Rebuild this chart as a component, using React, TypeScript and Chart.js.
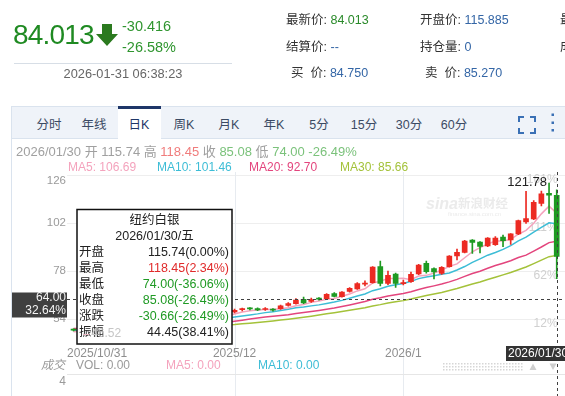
import React, { useEffect, useRef } from 'react';
import { Chart, registerables } from 'chart.js';
Chart.register(...registerables);

const W = 565;
const H = 396;
const FONT = '"Liberation Sans", Arial, "Noto Sans CJK SC", sans-serif';

// ---------- data ----------
const instrumentName = '纽约白银';
const dates = [
  '2025/10/31',
  '2025/11/03', '2025/11/04', '2025/11/05', '2025/11/06', '2025/11/07',
  '2025/11/10', '2025/11/11', '2025/11/12', '2025/11/13', '2025/11/14',
  '2025/11/17', '2025/11/18', '2025/11/19', '2025/11/20', '2025/11/21',
  '2025/11/24', '2025/11/25', '2025/11/26', '2025/11/27', '2025/11/28',
  '2025/12/01', '2025/12/02', '2025/12/03', '2025/12/04', '2025/12/05',
  '2025/12/08', '2025/12/09', '2025/12/10', '2025/12/11', '2025/12/12',
  '2025/12/15', '2025/12/16', '2025/12/17', '2025/12/18', '2025/12/19',
  '2025/12/22', '2025/12/23', '2025/12/24', '2025/12/26',
  '2025/12/29', '2025/12/30', '2025/12/31', '2026/01/02',
  '2026/01/05', '2026/01/06', '2026/01/07', '2026/01/08', '2026/01/09',
  '2026/01/12', '2026/01/13', '2026/01/14', '2026/01/15', '2026/01/16',
  '2026/01/19', '2026/01/20', '2026/01/21', '2026/01/22', '2026/01/23',
  '2026/01/26', '2026/01/27', '2026/01/28', '2026/01/29', '2026/01/30',
];
const opens = [
  48.40, 48.30, 47.90, 47.20, 47.90, 48.20, 48.60, 50.90, 51.80, 53.80, 52.60,
  52.00, 52.40, 53.00, 53.80, 53.30, 52.60, 53.40, 54.30, 55.50, 56.40,
  57.40, 58.50, 59.10, 59.00, 58.60, 58.60, 59.00, 60.60, 61.55, 63.70,
  62.60, 64.10, 64.00, 66.50, 65.00, 67.70, 68.85, 71.30, 72.00,
  80.00, 71.70, 76.30, 71.50,
  72.50, 76.35, 81.70, 79.00, 76.70,
  80.00, 85.35, 87.20, 93.35, 92.35,
  90.35, 91.00, 94.85, 93.35, 96.35,
  102.35, 103.85, 111.70, 116.70, 115.74,
];
const highs = [
  48.90, 48.60, 48.10, 48.20, 48.60, 48.90, 51.10, 51.90, 54.20, 54.40, 53.30,
  52.60, 53.30, 54.20, 54.10, 53.60, 53.70, 54.60, 55.90, 56.80, 57.90,
  58.80, 59.30, 59.60, 59.40, 59.50, 59.00, 60.80, 62.00, 64.00, 64.85,
  64.30, 64.50, 66.60, 67.00, 67.60, 69.50, 72.00, 72.90, 80.10,
  82.85, 77.85, 76.80, 73.35,
  77.35, 81.20, 82.85, 79.40, 80.00,
  85.60, 88.85, 93.20, 93.60, 92.60,
  94.60, 95.00, 95.85, 96.60, 103.30,
  117.70, 113.00, 117.85, 121.78, 118.45,
];
const lows = [
  47.90, 46.52, 46.90, 47.00, 47.60, 47.80, 48.50, 50.40, 51.30, 52.20, 50.10,
  50.80, 52.00, 52.70, 52.90, 52.10, 52.30, 53.10, 54.00, 55.20, 56.10,
  56.90, 57.90, 58.40, 58.00, 58.20, 57.80, 58.70, 60.30, 61.30, 61.50,
  62.20, 63.30, 63.80, 64.90, 64.80, 67.30, 68.60, 70.40, 71.80,
  70.35, 71.00, 69.70, 70.85,
  72.20, 76.00, 76.80, 73.85, 76.20,
  79.80, 83.35, 86.90, 86.70, 86.85,
  90.00, 90.60, 90.00, 91.20, 96.00,
  101.70, 103.50, 110.35, 106.70, 74.00,
];
const closes = [
  48.25, 47.90, 47.20, 47.90, 48.20, 48.60, 50.90, 51.80, 53.80, 52.60, 52.00,
  52.40, 53.00, 53.80, 53.30, 52.60, 53.40, 54.30, 55.50, 56.40, 57.60,
  58.20, 58.80, 58.90, 58.40, 58.90, 58.30, 60.40, 61.60, 63.35, 61.90,
  63.60, 63.80, 66.20, 65.20, 67.35, 69.20, 71.50, 71.50, 79.85,
  71.70, 75.70, 71.70, 72.10,
  76.20, 80.85, 77.50, 77.35, 79.70,
  85.35, 87.20, 92.85, 92.20, 90.20,
  94.35, 94.35, 93.00, 96.43, 103.00,
  104.00, 112.20, 116.45, 115.74, 85.08,
];
// closes of the 29 sessions before the first visible one (needed for MA30)
const priorCloses = [
  43.1, 43.6, 44.0, 43.9, 44.6, 46.2, 46.9, 46.4, 47.0, 47.2,
  47.9, 48.3, 47.6, 48.9, 49.8, 50.1, 51.6, 51.2, 52.8, 53.6,
  51.0, 47.6, 48.3, 48.6, 48.4, 46.5, 46.9, 47.6, 47.9,
];
const maPeriods = [5, 10, 20, 30];
const maColors = ['#f4a3bd', '#3dbdd6', '#e3457d', '#a4c23a'];
const yTickValues = [54, 78, 102, 126];
const xTickDates = ['2025/10/31', '2025/12/01', '2026/01/02'];
const xTickTexts = ['2025/10/31', '2025/12', '2026/1'];
const crosshairPrice = 64;
const yMin = 40.85;
const yMax = 127.35;

const quote = { price: '84.013', change: '-30.416', pct: '-26.58%', time: '2026-01-31 06:38:23' };
const quoteFields = [
  { label: '最新价:', value: '84.013', color: '#2a8a2a' },
  { label: '开盘价:', value: '115.885', color: '#3466a6' },
  { label: '最高价:', value: '121.780', color: '#3466a6' },
  { label: '结算价:', value: '--', color: '#3466a6' },
  { label: '持仓量:', value: '0', color: '#3466a6' },
  { label: '成交量:', value: '0', color: '#3466a6' },
  { label: '买\u00a0\u00a0价:', value: '84.750', color: '#3466a6' },
  { label: '卖\u00a0\u00a0价:', value: '85.270', color: '#3466a6' },
];
const tabs = ['分时', '年线', '日K', '周K', '月K', '年K', '5分', '15分', '30分', '60分'];
const activeTab = '日K';

// ---------- derived ----------
const UP = '#ec2a22';
const DOWN = '#1e9a22';
const last = closes.length - 1;
const base = closes[0];
const allCloses = [...priorCloses, ...closes];
const P = priorCloses.length;
function movingAverage(n: number) {
  return closes.map((_, i) => {
    let s = 0;
    for (let k = P + i - n + 1; k <= P + i; k++) s += allCloses[k];
    return s / n;
  });
}
const maSeries = maPeriods.map((n) => movingAverage(n));
const candleColors = closes.map((c, i) => (c >= opens[i] ? UP : DOWN));
const pctOfBase = (v: number) => Math.round((v / base - 1) * 100) + '%';
const prevClose = closes[last - 1];
const pctPrev = (v: number) => ((v / prevClose - 1) * 100).toFixed(2);
const signColor = (d: number) => (d > 0 ? '#e02b2b' : d < 0 ? '#1f9a24' : '#222');
const weekday = '日一二三四五六'[new Date(dates[last].replace(/\//g, '-') + 'T00:00:00').getDay()];

function font(size: number, extra = '') {
  return `${extra} ${size}px ${FONT}`.trim();
}

const decor = {
  id: 'decor',
  beforeDatasetsDraw(chart: any) {
    const { ctx, chartArea: a } = chart;
    const xs = chart.scales.x;
    const ys = chart.scales.y;
    ctx.save();
    ctx.lineWidth = 1;
    ctx.strokeStyle = '#eeeeee';
    for (const v of yTickValues) {
      const py = Math.round(ys.getPixelForValue(v)) + 0.5;
      ctx.beginPath();
      ctx.moveTo(67, py);
      ctx.lineTo(W, py);
      ctx.stroke();
    }
    ctx.strokeStyle = '#e7ebf0';
    xTickDates.slice(1).forEach((d) => {
      const px = Math.round(xs.getPixelForValue(dates.indexOf(d))) + 0.5;
      ctx.beginPath();
      ctx.moveTo(px, a.top);
      ctx.lineTo(px, H);
      ctx.stroke();
    });
    ctx.strokeStyle = '#e6e6e6';
    ctx.beginPath();
    ctx.moveTo(67, 374.5);
    ctx.lineTo(W, 374.5);
    ctx.stroke();
    // percentage labels on the right
    ctx.font = font(12);
    ctx.fillStyle = '#d0d0d0';
    ctx.textAlign = 'right';
    ctx.textBaseline = 'middle';
    for (const v of yTickValues) {
      ctx.fillText(pctOfBase(v), a.right - 3, ys.getPixelForValue(v) + 5);
    }
    // watermark
    ctx.fillStyle = '#ebebeb';
    ctx.textAlign = 'left';
    ctx.textBaseline = 'alphabetic';
    ctx.font = font(16, 'italic bold');
    ctx.fillText('sina', 426, 209);
    ctx.font = font(12.5, 'bold');
    ctx.fillText('新浪财经', 458, 208);
    ctx.font = font(6);
    ctx.fillText('finance.sina.com.cn', 448, 216);
    ctx.restore();
  },
  afterDraw(chart: any) {
    const { ctx, chartArea: a } = chart;
    const xs = chart.scales.x;
    const ys = chart.scales.y;
    ctx.save();
    // left price labels
    ctx.font = font(11.5);
    ctx.fillStyle = '#9a9a9a';
    ctx.textAlign = 'right';
    ctx.textBaseline = 'middle';
    for (const v of yTickValues) {
      ctx.fillText(String(v), 66, Math.max(ys.getPixelForValue(v), a.top + 9));
    }
    // date labels
    ctx.font = font(12);
    ctx.fillStyle = '#8e8e8e';
    ctx.textAlign = 'left';
    xTickDates.forEach((d, k) => {
      const px = xs.getPixelForValue(dates.indexOf(d));
      const w = ctx.measureText(xTickTexts[k]).width;
      ctx.fillText(xTickTexts[k], Math.max(px - w / 2, 67), 353.5);
    });
    // highest high marker
    let hi = 0;
    highs.forEach((h, i) => { if (h > highs[hi]) hi = i; });
    ctx.font = font(13);
    ctx.fillStyle = '#222';
    ctx.textAlign = 'right';
    ctx.fillText(highs[hi].toFixed(2), xs.getPixelForValue(hi) - 2, ys.getPixelForValue(highs[hi]) - 1);
    // crosshair
    const cx = Math.round(xs.getPixelForValue(last)) + 0.5;
    const cy = Math.round(ys.getPixelForValue(crosshairPrice)) + 0.5;
    ctx.strokeStyle = '#404040';
    ctx.lineWidth = 1;
    ctx.setLineDash([3, 3]);
    ctx.beginPath();
    ctx.moveTo(cx, a.top);
    ctx.lineTo(cx, H);
    ctx.moveTo(67, cy);
    ctx.lineTo(W, cy);
    ctx.stroke();
    ctx.setLineDash([]);
    ctx.fillStyle = '#404040';
    ctx.fillRect(12, cy - 7, 55, 25);
    ctx.fillStyle = '#f4f4f4';
    ctx.font = font(12);
    ctx.textAlign = 'right';
    ctx.fillText(crosshairPrice.toFixed(2), 66, cy - 1.5);
    ctx.fillText(((crosshairPrice / base - 1) * 100).toFixed(2) + '%', 66, cy + 11.5);
    ctx.fillStyle = '#333';
    ctx.fillRect(506, 346, 62, 15);
    ctx.fillStyle = '#fff';
    ctx.textAlign = 'left';
    ctx.fillText(dates[last], 508, 353.5);
    // tooltip
    const tx = 77, ty = 209.5, tw = 155, th = 134.5;
    ctx.fillStyle = '#fff';
    ctx.fillRect(tx, ty, tw, th);
    ctx.lineWidth = 1.5;
    ctx.strokeStyle = '#111';
    ctx.strokeRect(tx, ty, tw, th);
    ctx.font = font(12.5);
    ctx.fillStyle = '#222';
    ctx.textAlign = 'center';
    ctx.fillText(instrumentName, tx + tw / 2, 220.7);
    ctx.fillText(`${dates[last]}/${weekday}`, tx + tw / 2, 236.7);
    const o = opens[last], h = highs[last], l = lows[last], c = closes[last];
    const rows = [
      { label: '开盘', value: `${o.toFixed(2)}(${pctPrev(o)}%)`, color: signColor(o - prevClose) },
      { label: '最高', value: `${h.toFixed(2)}(${pctPrev(h)}%)`, color: signColor(h - prevClose) },
      { label: '最低', value: `${l.toFixed(2)}(${pctPrev(l)}%)`, color: signColor(l - prevClose) },
      { label: '收盘', value: `${c.toFixed(2)}(${pctPrev(c)}%)`, color: signColor(c - prevClose) },
      { label: '涨跌', value: `${(c - prevClose).toFixed(2)}(${pctPrev(c)}%)`, color: signColor(c - prevClose) },
      { label: '振幅', value: `${(h - l).toFixed(2)}(${((h - l) / prevClose * 100).toFixed(2)}%)`, color: '#222' },
    ];
    rows.forEach((r, k) => {
      const ry = 252.7 + 16 * k;
      ctx.textAlign = 'left';
      ctx.fillStyle = '#222';
      ctx.fillText(r.label, tx + 2, ry);
      ctx.textAlign = 'right';
      ctx.fillStyle = r.color;
      ctx.fillText(r.value, tx + tw - 3, ry);
    });
    // lowest low marker (faint, over tooltip)
    let lo = 0;
    lows.forEach((v, i) => { if (v < lows[lo]) lo = i; });
    const lx = xs.getPixelForValue(lo);
    const ly = ys.getPixelForValue(lows[lo]);
    ctx.strokeStyle = '#eab8c4';
    ctx.lineWidth = 1;
    ctx.beginPath();
    ctx.moveTo(lx + 2, Math.round(ly) + 0.5);
    ctx.lineTo(lx + 8, Math.round(ly) + 0.5);
    ctx.stroke();
    ctx.fillStyle = '#c6c6c6';
    ctx.textAlign = 'left';
    ctx.font = font(12);
    ctx.fillText(lows[lo].toFixed(2), lx + 10, ly);
    // volume panel handle
    ctx.fillStyle = '#d6d6d6';
    for (let x = 443; x < 522; x += 3) {
      ctx.fillRect(x, 363, 1.5, 1.5);
      ctx.fillRect(x, 366, 1.5, 1.5);
      ctx.fillRect(x, 369, 1.5, 1.5);
    }
    ctx.fillStyle = '#cfcfcf';
    ctx.beginPath();
    ctx.moveTo(529.5, 370); ctx.lineTo(536.5, 370); ctx.lineTo(533, 363.5); ctx.closePath();
    ctx.moveTo(549.5, 363.5); ctx.lineTo(556.5, 363.5); ctx.lineTo(553, 370); ctx.closePath();
    ctx.fill();
    ctx.restore();
  },
};

function Txt(props: any) {
  const { x, y, size = 12, color = '#333', align = 'left', children, style } = props;
  const s: any = {
    position: 'absolute', top: y - size / 2, fontSize: size, lineHeight: size + 'px',
    color, whiteSpace: 'nowrap',
  };
  if (align === 'right') s.right = W - x;
  else if (align === 'center') { s.left = x; s.transform = 'translateX(-50%)'; }
  else s.left = x;
  return <div style={{ ...s, ...style }}>{children}</div>;
}

export default function App() {
  const ref = useRef<HTMLCanvasElement>(null);
  useEffect(() => {
    const datasets: any[] = [
      {
        type: 'bar', label: 'body', data: opens.map((v, i) => [v, closes[i]]),
        backgroundColor: candleColors, barThickness: 5, grouped: false, minBarLength: 1,
        borderWidth: 0, order: 0,
      },
      {
        type: 'bar', label: 'wick', data: lows.map((v, i) => [v, highs[i]]),
        backgroundColor: candleColors, barThickness: 1, grouped: false, minBarLength: 1,
        borderWidth: 0, order: 0,
      },
      ...maSeries.map((s, k) => ({
        type: 'line', label: 'MA' + maPeriods[k], data: s, borderColor: maColors[k],
        borderWidth: 1.5, pointRadius: 0, tension: 0, order: 1,
      })),
    ];
    const chart = new Chart(ref.current as HTMLCanvasElement, {
      type: 'bar',
      data: { labels: dates, datasets },
      options: {
        animation: false,
        responsive: false,
        devicePixelRatio: 1,
        events: [],
        layout: { padding: { left: 69.67, right: 4.45, top: 172, bottom: 51 } },
        plugins: { legend: { display: false }, tooltip: { enabled: false } },
        scales: {
          x: { type: 'category', display: false, offset: true },
          y: { type: 'linear', display: false, min: yMin, max: yMax },
        },
      } as any,
      plugins: [decor],
    } as any);
    return () => chart.destroy();
  }, []);

  const lastO = opens[last], lastH = highs[last], lastL = lows[last], lastC = closes[last];
  const tabW = 45;
  const tabX0 = 26.5;

  return (
    <div style={{ position: 'fixed', left: 0, top: 0, width: W, height: H, overflow: 'hidden', background: '#fff', fontFamily: FONT }}>
      <canvas ref={ref} width={W} height={H} style={{ position: 'absolute', left: 0, top: 0, width: W, height: H }} />

      {/* header quote */}
      <Txt x={13} y={35} size={28} color="#1f8a22" style={{ letterSpacing: '-0.8px' }}>{quote.price}</Txt>
      <svg width={24} height={24} style={{ position: 'absolute', left: 95, top: 23 }}>
        <polygon points="7,1 17,1 17,11 23,11 12,23 1,11 7,11" fill="#2b7a1f" />
      </svg>
      <Txt x={122} y={26} size={14.5} color="#2f952f">{quote.change}</Txt>
      <Txt x={122} y={47.5} size={14.5} color="#2f952f">{quote.pct}</Txt>
      <div style={{ position: 'absolute', left: 14, top: 63, width: 218, height: 1, background: '#d7dee6' }} />
      <Txt x={123} y={74.5} size={12.8} color="#666" align="center">{quote.time}</Txt>

      {quoteFields.map((f, i) => {
        const col = i % 3;
        const row = Math.floor(i / 3);
        const x = [286, 420, 560][col] + (row === 2 ? 5 : 0);
        const y = [20, 47, 73][row];
        return (
          <Txt key={i} x={x} y={y} size={12.5} color="#333">
            {f.label} <span style={{ color: f.color }}>{f.value}</span>
          </Txt>
        );
      })}

      {/* tab bar */}
      <div style={{ position: 'absolute', left: 11, top: 106, width: 570, height: 33, background: '#eff3f9', border: '1px solid #dae3ee', boxSizing: 'border-box' }} />
      {tabs.map((t, i) => {
        const cx = tabX0 + tabW * (i + 0.5);
        const active = t === activeTab;
        return (
          <React.Fragment key={t}>
            {active && (
              <div style={{ position: 'absolute', left: cx - 21.5, top: 106, width: 43, height: 34, background: '#fff', borderTop: '3px solid #1e3668', boxSizing: 'border-box' }} />
            )}
            <Txt x={cx} y={125} size={12.5} color={active ? '#1e3668' : '#3b4a63'} align="center">{t}</Txt>
          </React.Fragment>
        );
      })}
      <svg width={20} height={20} style={{ position: 'absolute', left: 517, top: 115 }}>
        <path d="M2 7 V2 H7 M13 2 H18 V7 M18 13 V18 H13 M7 18 H2 V13" stroke="#3a70b5" strokeWidth={2} fill="none" />
      </svg>
      <svg width={6} height={22} style={{ position: 'absolute', left: 550, top: 112 }}>
        <rect x={1.5} y={1.5} width={2.5} height={2.5} fill="#3a70b5" />
        <rect x={1.5} y={9.5} width={2.5} height={2.5} fill="#3a70b5" />
        <rect x={1.5} y={17} width={2.5} height={2.5} fill="#3a70b5" />
      </svg>
      <div style={{ position: 'absolute', left: 11, top: 139, width: 1, height: H - 139, background: '#dae3ee' }} />

      {/* info rows */}
      <Txt x={16} y={151} size={13} color="#a0a0a0">
        {dates[last]} 开 {lastO.toFixed(2)} 高 <span style={{ color: '#f07c7c' }}>{lastH.toFixed(2)}</span> 收{' '}
        <span style={{ color: '#7bc27b' }}>{lastC.toFixed(2)}</span> 低{' '}
        <span style={{ color: '#7bc27b' }}>{lastL.toFixed(2)} {pctPrev(lastC)}%</span>
      </Txt>
      {maSeries.map((s, k) => (
        <Txt key={k} x={[68, 157, 249, 340][k]} y={167} size={12} color={maColors[k]}>
          MA{maPeriods[k]}: {s[last].toFixed(2)}
        </Txt>
      ))}

      {/* volume panel header */}
      <Txt x={41} y={365} size={12} color="#9a9a9a" style={{ fontStyle: 'italic' }}>成交</Txt>
      <Txt x={76} y={365} size={12} color="#9a9a9a">VOL: 0.00</Txt>
      <Txt x={166} y={365} size={12} color={maColors[0]}>MA5: 0.00</Txt>
      <Txt x={258} y={365} size={12} color={maColors[1]}>MA10: 0.00</Txt>
      <Txt x={66} y={380.5} size={12} color="#9a9a9a" align="right">4</Txt>
    </div>
  );
}
